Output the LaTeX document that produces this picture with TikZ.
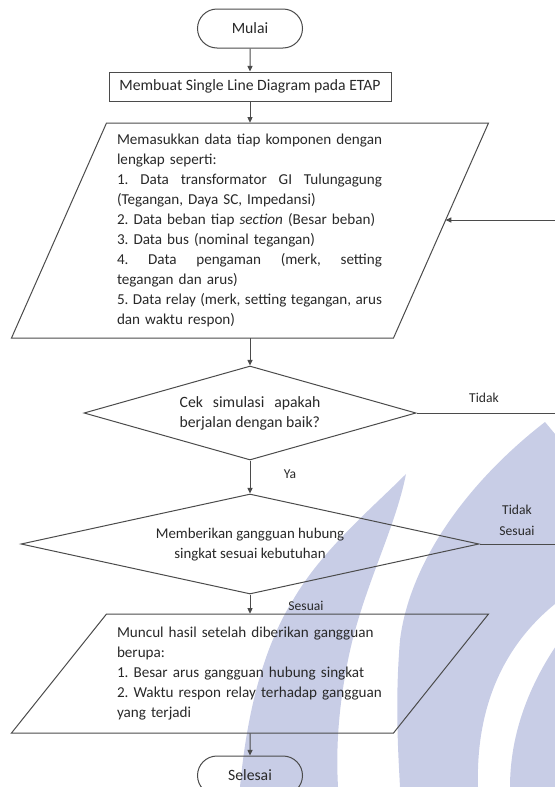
\documentclass[tikz,border=0pt]{standalone}
\usepackage{fontspec}
\setmainfont{Carlito}
\usetikzlibrary{shapes.geometric,shapes.misc,arrows.meta}
\definecolor{wm}{RGB}{200,205,230}
\definecolor{ln}{RGB}{75,75,75}
\definecolor{tx}{RGB}{40,40,40}
\frenchspacing
\newlength\paraW
\setlength\paraW{185.5pt}
\newcommand\fullline[1]{\makebox[\paraW][s]{\spaceskip=0pt\xspaceskip=0pt #1}}
\begin{document}
\begin{tikzpicture}[x=0.7pt,y=-0.7pt,
  line/.style={draw=ln, line width=0.7pt},
  arr/.style={line, -{Triangle[length=4pt,width=3.6pt]}},
  basefont/.style={font=\fontsize{11pt}{14pt}\selectfont, text=tx},
  parafont/.style={font=\fontsize{10.6pt}{14pt}\selectfont\frenchspacing, text=tx},
  term/.style={line, basefont, rounded rectangle, minimum width=73.5pt, minimum height=27.3pt, inner sep=0pt},
  proc/.style={line, basefont, rectangle, minimum width=197.4pt, minimum height=20.3pt, inner sep=0pt},
  iotext/.style={parafont, rectangle, draw=none, inner sep=0pt, text width=186.2pt, align=left},
  dec/.style={line, basefont, diamond, inner sep=0pt},
  lbl/.style={font=\fontsize{9.5pt}{11pt}\selectfont, text=tx, inner sep=0pt}]
\useasboundingbox (0,0) rectangle (554,787);

% watermark
\fill[wm] (406,474) .. controls (395,530) and (362,590) .. (348,660)
  .. controls (338,710) and (336,750) .. (338,787) -- (240,787)
  .. controls (248,700) and (268,640) .. (293,600)
  .. controls (322,550) and (370,510) .. (406,474) -- cycle;
\fill[wm] (545,422) .. controls (470,480) and (410,560) .. (400,640)
  .. controls (395,700) and (398,750) .. (400,787) -- (478,787)
  .. controls (476,720) and (495,650) .. (560,600) -- (560,440) -- cycle;
\fill[wm] (560,640) .. controls (525,690) and (510,740) .. (510,787) -- (560,787) -- cycle;

% nodes
\node[term] (start) at (250,28.5) {Mulai};
\node[proc] (s1) at (250,86.5) {Membuat Single Line Diagram pada ETAP};

\node[iotext, minimum height=150.5pt] (p1) at (250,230.5) {%
\fullline{Memasukkan data tiap komponen dengan}\\
\mbox{lengkap seperti:}\\
\fullline{1. Data transformator GI Tulungagung}\\
\mbox{(Tegangan, Daya SC, Impedansi)}\\
\mbox{2. Data beban tiap \textit{section} (Besar beban)}\\
\mbox{3. Data bus (nominal tegangan)}\\
\fullline{4. Data pengaman (merk, setting}\\
\mbox{tegangan dan arus)}\\
\fullline{5. Data relay (merk, setting tegangan, arus}\\
\mbox{dan waktu respon)}};
\draw[line] (11.5,338) -- (106.5,123) -- (488.5,123) -- (393.5,338) -- cycle;

\node[dec, aspect=3.5, minimum width=232.4pt, minimum height=65.8pt] (d1) at (250,413)
  {\parbox{98.5pt}{\makebox[98.5pt][s]{Cek simulasi apakah}\\berjalan dengan baik?}};
\node[dec, aspect=4.5, minimum width=320.6pt, minimum height=70pt, font=\fontsize{10.4pt}{14pt}\selectfont] (d2) at (250,544)
  {\begin{tabular}{@{}c@{}}Memberikan gangguan hubung\\singkat sesuai kebutuhan\end{tabular}};

\node[iotext, minimum height=83.3pt] (p2) at (250,673.5) {%
\mbox{Muncul hasil setelah diberikan gangguan}\\
\mbox{berupa:}\\
\mbox{1. Besar arus gangguan hubung singkat}\\
\mbox{2. Waktu respon relay terhadap gangguan}\\
\mbox{yang terjadi}};
\draw[line] (11.5,733) -- (106.5,614) -- (488.5,614) -- (393.5,733) -- cycle;

\node[term] (end) at (250,775.5) {Selesai};

% free-end coordinates
\coordinate (rt1) at (556,413);
\coordinate (rt2) at (556,544);
\coordinate (rt3) at (556,220);
\coordinate (fbin) at (445.6,220);

% connectors
\draw[arr] (start) -- (s1);
\draw[arr] (s1) -- (p1);
\draw[arr] (p1) -- (d1);
\draw[arr] (d1) -- (d2);
\draw[arr] (d2) -- (p2);
\draw[arr] (p2) -- (end);
\draw[line] (d1.east) -- (rt1);
\draw[arr] (d2.east) -- (rt2) -- (rt3) -- (fbin);

% labels
\node[lbl] (l1) at (484,398) {Tidak};
\node[lbl] (l2) at (290,474) {Ya};
\node[lbl] (l3) at (517,510) {Tidak};
\node[lbl] (l4) at (517,531) {Sesuai};
\node[lbl] (l5) at (306,606) {Sesuai};
\end{tikzpicture}
\end{document}
